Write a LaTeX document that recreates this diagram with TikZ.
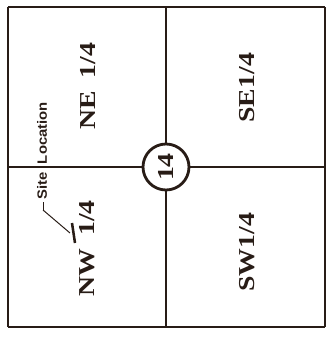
\documentclass[tikz,border=0pt]{standalone}
\usepackage{fontspec}
\usepackage{tikz}
\newfontfamily\quarterfont[FakeStretch=1.22]{Liberation Serif}
\newfontfamily\notefont[FakeStretch=1.1]{Liberation Sans}
\definecolor{ink}{RGB}{40,28,22}
\pgfdeclarelayer{edgelayer}
\pgfdeclarelayer{nodelayer}
\pgfsetlayers{edgelayer,nodelayer,main}
\tikzstyle{none}=[inner sep=0pt]
\tikzstyle{quarter}=[inner sep=0pt, rotate=90, text=ink, font=\quarterfont\bfseries\fontsize{16.2}{19}\selectfont]
\tikzstyle{section}=[circle, fill=white, draw=ink, line width=2pt, minimum size=1.15cm, inner sep=0pt, rotate=90, text=ink, font=\quarterfont\bfseries\fontsize{16.2}{19}\selectfont]
\tikzstyle{note}=[inner sep=0pt, rotate=90, text=ink, font=\notefont\bfseries\fontsize{9.6}{11}\selectfont]

\begin{document}
\begin{tikzpicture}
			\useasboundingbox (-4.15,-4.3) rectangle (4.05,4.175);
			\begin{pgfonlayer}{nodelayer}
			\node [style=none] (0) at (-3.95, 4) {};
			\node [style=none] (1) at (3.975, 4) {};
			\node [style=none] (2) at (3.975, -4) {};
			\node [style=none] (3) at (-3.95, -4) {};
			\node [style=none] (4) at (0, 4) {};
			\node [style=none] (5) at (0, -4) {};
			\node [style=none] (6) at (-3.95, 0) {};
			\node [style=none] (7) at (3.975, 0) {};
			\node [style=section] (8) at (0, 0) {14};
			\node [style=quarter] (9) at (-1.94, 2.03) {NE\hspace{0.55em}1/4};
			\node [style=quarter] (10) at (2.03, 1.98) {SE1/4};
			\node [style=quarter] (11) at (-1.98, -2.03) {NW\hspace{0.55em}1/4};
			\node [style=quarter] (12) at (2.03, -2.13) {SW1/4};
			\node [style=note] (13) at (-3.1, 0.4) {Site\hspace{1.2ex}Location};
			\node [style=none] (14) at (-3.075, -0.875) {};
			\node [style=none] (15) at (-3.075, -1.075) {};
			\node [style=none] (16) at (-2.4, -1.65) {};
			\node [style=none] (17) at (-2.35, -1.4) {};
			\node [style=none] (18) at (-2.275, -1.9) {};
			\end{pgfonlayer}
			\begin{pgfonlayer}{edgelayer}
			\draw [draw=ink, line width=1.4pt] (0.center) to (1.center);
			\draw [draw=ink, line width=1.4pt] (1.center) to (2.center);
			\draw [draw=ink, line width=1.4pt] (2.center) to (3.center);
			\draw [draw=ink, line width=1.4pt] (3.center) to (0.center);
			\draw [draw=ink, line width=0.9pt] (4.center) to (5.center);
			\draw [draw=ink, line width=0.9pt] (6.center) to (7.center);
			\draw [draw=ink, line width=0.7pt] (14.center) to (15.center);
			\draw [draw=ink, line width=0.7pt] (15.center) to (16.center);
			\draw [draw=ink, line width=1.8pt] (17.center) to (18.center);
			\end{pgfonlayer}
			\end{tikzpicture}
\end{document}
